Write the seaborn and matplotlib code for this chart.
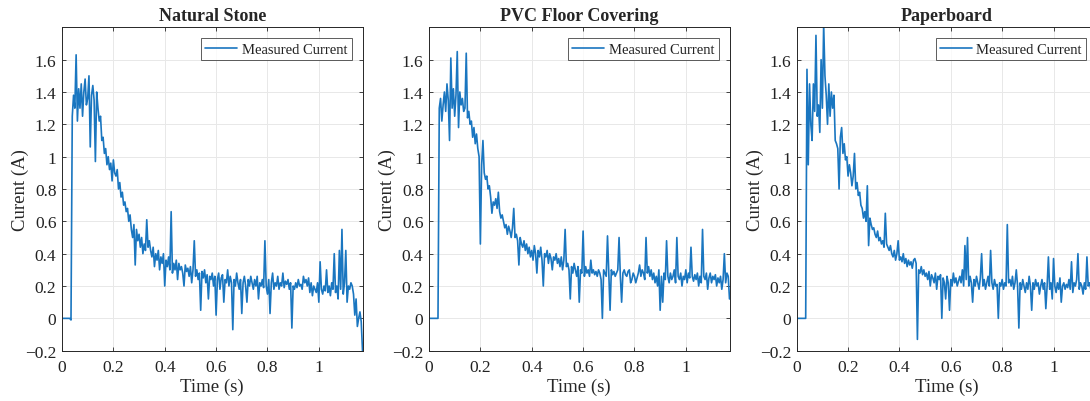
import numpy as np
import pandas as pd
import matplotlib
matplotlib.use("Agg")
import matplotlib.pyplot as plt
import seaborn as sns

DT = 0.005
titles = ["Natural Stone", "PVC Floor Covering", "Paperboard"]

natural_stone = [
    0, 0, 0, 0, 0, 0, 0, -0.01,
    1.25, 1.38, 1.30, 1.63, 1.22, 1.42, 1.30, 1.45, 1.25, 1.40,
    1.48, 1.32, 1.36, 1.50, 1.06, 1.38, 1.44, 1.35, 0.97, 1.40,
    1.30, 1.22, 1.25, 1.10, 1.12, 1.02, 1.05, 0.95, 1.00, 0.92,
    0.96, 0.85, 0.98, 0.90, 0.88, 0.92, 0.80, 0.84, 0.75, 0.78,
    0.70, 0.72, 0.66, 0.68, 0.60, 0.64, 0.55, 0.50, 0.58, 0.33,
    0.55, 0.48, 0.52, 0.44, 0.50, 0.40, 0.46, 0.42, 0.61, 0.44,
    0.48, 0.42, 0.38, 0.44, 0.32, 0.40, 0.36, 0.42, 0.30, 0.38,
    0.34, 0.40, 0.20, 0.36, 0.32, 0.38, 0.30, 0.66, 0.28, 0.34,
    0.30, 0.36, 0.24, 0.34, 0.30, 0.32, 0.28, 0.20, 0.33, 0.29,
    0.31, 0.26, 0.32, 0.22, 0.30, 0.48, 0.26, 0.30, 0.24, 0.28,
    0.05, 0.29, 0.25, 0.30, 0.22, 0.27, 0.12, 0.26, 0.24, 0.28,
    0.20, 0.26, 0.02, 0.24, 0.28, 0.18, 0.25, 0.27, 0.10, 0.24,
    0.22, 0.30, 0.20, 0.26, 0.22, -0.07, 0.24, 0.20, 0.28, 0.22,
    0.18, 0.24, 0.03, 0.22, 0.26, 0.20, 0.10, 0.24, 0.20, 0.26,
    0.22, 0.18, 0.24, 0.20, 0.26, 0.12, 0.22, 0.20, 0.24, 0.19,
    0.48, 0.20, 0.15, 0.24, 0.03, 0.22, 0.28, 0.18, 0.22, 0.20,
    0.26, 0.18, 0.22, 0.20, 0.28, 0.19, 0.23, 0.21, 0.24, 0.18,
    0.22, -0.06, 0.20, 0.18, 0.22, 0.19, 0.24, 0.20, 0.21, 0.18,
    0.26, 0.22, 0.24, 0.20, 0.25, 0.16, 0.22, 0.14, 0.20, 0.18,
    0.16, 0.22, 0.10, 0.35, 0.18, 0.15, 0.20, 0.17, 0.30, 0.16,
    0.20, 0.14, 0.22, 0.18, 0.40, 0.16, 0.20, 0.12, 0.42, 0.18,
    0.55, 0.15, 0.22, 0.42, 0.10, 0.20, 0.18, 0.22, 0.20, 0.15,
    0.02, 0.12, -0.05, 0.00, 0.04, -0.02, -0.20,
]

pvc_floor = [
    0, 0, 0, 0, 0, 0, 0, 0,
    1.30, 1.36, 1.22, 1.32, 1.40, 1.28, 1.45, 1.35, 1.10, 1.61,
    1.30, 1.42, 1.25, 1.38, 1.65, 1.18, 1.40, 1.32, 1.36, 1.28,
    1.30, 1.64, 1.24, 1.28, 1.20, 1.22, 1.12, 1.18, 1.08, 1.14,
    1.05, 1.00, 0.46, 0.95, 1.10, 0.90, 0.86, 0.88, 0.80, 0.82,
    0.75, 0.65, 0.72, 0.70, 0.74, 0.68, 0.78, 0.66, 0.62, 0.64,
    0.60, 0.56, 0.58, 0.52, 0.57, 0.54, 0.50, 0.56, 0.68, 0.50,
    0.52, 0.48, 0.33, 0.50, 0.46, 0.44, 0.48, 0.42, 0.46, 0.40,
    0.44, 0.38, 0.42, 0.36, 0.45, 0.40, 0.28, 0.42, 0.38, 0.44,
    0.36, 0.20, 0.40, 0.38, 0.42, 0.34, 0.40, 0.37, 0.30, 0.38,
    0.36, 0.40, 0.34, 0.37, 0.32, 0.38, 0.30, 0.36, 0.55, 0.32,
    0.34, 0.30, 0.12, 0.32, 0.28, 0.34, 0.30, 0.26, 0.32, 0.10,
    0.30, 0.28, 0.54, 0.26, 0.32, 0.28, 0.30, 0.26, 0.36, 0.28,
    0.30, 0.27, 0.29, 0.26, 0.30, 0.28, 0.24, 0.00, 0.30, 0.28,
    0.26, 0.51, 0.28, 0.05, 0.30, 0.27, 0.29, 0.26, 0.28, 0.30,
    0.50, 0.26, 0.10, 0.28, 0.30, 0.27, 0.26, 0.29, 0.30, 0.22,
    0.24, 0.28, 0.26, 0.22, 0.25, 0.28, 0.33, 0.26, 0.30, 0.28,
    0.24, 0.50, 0.28, 0.32, 0.26, 0.30, 0.24, 0.28, 0.22, 0.26,
    0.20, 0.30, 0.05, 0.26, 0.10, 0.28, 0.24, 0.48, 0.26, 0.22,
    0.28, 0.24, 0.26, 0.30, 0.22, 0.50, 0.26, 0.24, 0.28, 0.20,
    0.26, 0.24, 0.30, 0.22, 0.28, 0.25, 0.44, 0.26, 0.23, 0.27,
    0.24, 0.28, 0.20, 0.26, 0.22, 0.55, 0.26, 0.24, 0.28, 0.18,
    0.25, 0.28, 0.22, 0.26, 0.24, 0.27, 0.20, 0.25, 0.22, 0.26,
    0.18, 0.24, 0.40, 0.22, 0.28, 0.26, 0.12,
]

paperboard = [
    0, 0, 0, 0, 0, 0, 0, 0,
    1.54, 0.95, 1.45, 1.20, 1.10, 1.45, 1.28, 1.75, 1.25, 1.32,
    1.15, 1.60, 1.30, 1.82, 1.50, 1.38, 1.20, 1.45, 1.25, 1.40,
    1.30, 1.38, 1.10, 1.08, 1.05, 0.80, 1.12, 1.18, 1.02, 1.08,
    0.98, 1.00, 0.88, 0.95, 0.90, 0.82, 0.88, 1.02, 0.80, 0.84,
    0.76, 0.78, 0.70, 0.68, 0.62, 0.66, 0.60, 0.82, 0.45, 0.62,
    0.58, 0.55, 0.56, 0.52, 0.50, 0.54, 0.48, 0.50, 0.46, 0.48,
    0.44, 0.65, 0.46, 0.44, 0.42, 0.45, 0.40, 0.38, 0.42, 0.36,
    0.40, 0.48, 0.36, 0.38, 0.35, 0.40, 0.34, 0.37, 0.32, 0.36,
    0.33, 0.35, 0.31, 0.36, 0.37, 0.34, -0.13, 0.30, 0.28, 0.32,
    0.27, 0.30, 0.26, 0.28, 0.24, 0.29, 0.20, 0.27, 0.25, 0.22,
    0.28, 0.18, 0.26, 0.24, 0.27, 0.00, 0.25, 0.22, 0.12, 0.26,
    0.22, 0.05, 0.24, 0.20, 0.28, 0.22, 0.25, 0.20, 0.23, 0.26,
    0.22, 0.30, 0.20, 0.45, 0.24, 0.50, 0.20, 0.26, 0.22, 0.10,
    0.24, 0.20, 0.26, 0.22, 0.18, 0.25, 0.40, 0.20, 0.24, 0.18,
    0.22, 0.26, 0.20, 0.42, 0.22, 0.18, 0.24, 0.20, 0.21, 0.00,
    0.22, 0.20, 0.24, 0.18, 0.22, 0.20, 0.58, 0.22, 0.24, 0.20,
    0.26, 0.18, 0.22, 0.30, 0.20, -0.06, 0.22, 0.18, 0.24, 0.20,
    0.16, 0.22, 0.18, 0.26, 0.20, 0.05, 0.22, 0.18, 0.24, 0.20,
    0.22, 0.15, 0.20, 0.24, 0.18, 0.22, 0.06, 0.20, 0.38, 0.18,
    0.22, 0.12, 0.37, 0.20, 0.16, 0.22, 0.18, 0.25, 0.10, 0.20,
    0.22, 0.18, 0.21, 0.19, 0.24, 0.18, 0.35, 0.16, 0.22, 0.20,
    0.24, 0.40, 0.18, 0.22, 0.20, 0.15, 0.22, 0.18, 0.38, 0.20,
    0.22, 0.18, 0.24, 0.20, 0.16, 0.22, 0.20,
]

traces = [natural_stone, pvc_floor, paperboard]

x_ticks = [0, 0.2, 0.4, 0.6, 0.8, 1.0]
x_ticklabels = ["0", "0.2", "0.4", "0.6", "0.8", "1"]
y_ticks = [-0.2, 0, 0.2, 0.4, 0.6, 0.8, 1.0, 1.2, 1.4, 1.6]
y_ticklabels = ["\u22120.2", "0", "0.2", "0.4", "0.6", "0.8", "1", "1.2", "1.4", "1.6"]

sns.set_theme(style="whitegrid")
plt.rcParams["font.family"] = ["Liberation Serif", "DejaVu Serif"]

W, H = 1090, 402
fig = plt.figure(figsize=(W / 100, H / 100), dpi=100)
fig.patch.set_facecolor("white")

lefts = [62, 429, 796.7]
ax_w, ax_top, ax_bot = 300.5, 28.3, 351.7

for left, title, vals in zip(lefts, titles, traces):
    ax = fig.add_axes([left / W, (H - ax_bot) / H, ax_w / W, (ax_bot - ax_top) / H])
    df = pd.DataFrame({"Time (s)": np.arange(len(vals)) * DT, "Current": vals})
    sns.lineplot(data=df, x="Time (s)", y="Current", ax=ax, color="#1a76c0",
                 linewidth=1.2, estimator=None, sort=False, label="Measured Current")
    ax.set_xlim(0, 1.17)
    ax.set_ylim(-0.2, 1.8)
    ax.set_xticks(x_ticks)
    ax.set_xticklabels(x_ticklabels)
    ax.set_yticks(y_ticks)
    ax.set_yticklabels(y_ticklabels)
    ax.set_facecolor("white")
    ax.grid(True, color="#e8e8e8", linewidth=0.7)
    for sp in ax.spines.values():
        sp.set_visible(True)
        sp.set_color("#262626")
        sp.set_linewidth(0.7)
    ax.tick_params(direction="in", length=3, width=0.6, colors="#262626",
                   labelcolor="#222222", labelsize=12.5, top=True, right=True,
                   bottom=True, left=True)
    ax.tick_params(axis="x", pad=6)
    ax.tick_params(axis="y", pad=4)
    ax.set_title(title, fontsize=13, fontweight="bold", pad=5)
    ax.set_xlabel("Time (s)", fontsize=13.5, labelpad=2)
    ax.set_ylabel("Curent (A)", fontsize=13.5, labelpad=-3)
    leg = ax.legend(loc="upper right", fontsize=10.5, frameon=True, fancybox=False,
                    borderaxespad=0.75, handlelength=2.2, handletextpad=0.3,
                    borderpad=0.3, labelcolor="#222222")
    leg.get_frame().set_edgecolor("#333333")
    leg.get_frame().set_linewidth(0.7)

fig.savefig("out.png", dpi=100, facecolor="white")
